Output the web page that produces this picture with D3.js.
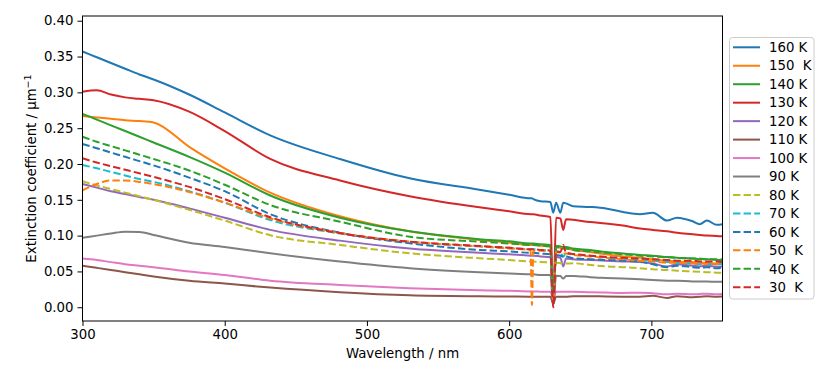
<!DOCTYPE html>
<meta charset="utf-8">
<script src="https://d3js.org/d3.v7.min.js"></script>
<body style="margin:0;background:#fff">
<div id="chart"></div>
</body>
<script>
    // wavelength grid (nm) shared by all series
    const wavelengths = [300, 310, 320, 330, 340, 350, 375, 400, 432, 481, 530, 579, 600, 615, 616, 617, 622, 629, 631, 633, 636, 638, 640, 645, 657, 668, 680, 692, 701, 711, 718, 729, 734, 739, 746, 750];

    // extinction coefficient per temperature
    const k160 = [.357, .349, .341, .333, .325, .318, .297, .272, .240, .207, .180, .164, .157, .152, .152, .151, .148, .147, .132, .146, .132, .146, .145, .141, .140, .138, .133, .130, .132, .121, .125, .120, .116, .121, .115, .116];
    const k150 = [.267, .265, .263, .261, .260, .258, .224, .194, .160, .127, .106, .094, .090, .087, .087, .087, .086, .085, .010, .084, .083, .082, .082, .080, .077, .074, .071, .069, .067, .065, .064, .063, .062, .062, .061, .061];
    const k140 = [.270, .262, .254, .246, .238, .230, .210, .188, .156, .125, .106, .095, .092, .089, .089, .089, .088, .087, .020, .086, .085, .084, .084, .082, .080, .077, .075, .073, .072, .070, .069, .068, .067, .067, .066, .066];
    const k130 = [.301, .303, .297, .293, .291, .289, .273, .246, .207, .177, .155, .1395, .134, .130, .130, .130, .128, .126, .000, .125, .124, .108, .123, .122, .119, .117, .114, .110, .108, .106, .104, .102, .101, .100, .0995, .099];
    const k120 = [.172, .167, .162, .158, .154, .150, .138, .125, .108, .093, .082, .076, .074, .072, .072, .072, .071, .070, .030, .070, .069, .057, .068, .067, .066, .065, .064, .063, .061, .057, .060, .058, .057, .058, .0567, .057];
    const k110 = [.058, .055, .052, .049, .046, .043, .037, .033, .0274, .021, .0167, .0153, .015, .0148, .0148, .0148, .0146, .0145, .005, .0145, .0145, .0145, .0145, .0155, .0155, .015, .0148, .0148, .016, .013, .0155, .014, .0145, .0155, .0148, .015];
    const k100 = [.068, .066, .063, .060, .058, .056, .050, .045, .0371, .0311, .0265, .0237, .023, .022, .022, .022, .0218, .0215, .012, .0215, .0215, .0215, .0215, .0218, .021, .0205, .020, .0204, .0195, .018, .019, .018, .0185, .019, .0181, .0185];
    const k90 = [.097, .100, .103, .1055, .105, .101, .090, .084, .0753, .0637, .0544, .0488, .047, .046, .046, .046, .045, .045, .003, .044, .0435, .040, .0435, .0437, .042, .041, .040, .039, .038, .037, .037, .036, .036, .0358, .0357, .0355];
    const k80 = [.176, .170, .165, .160, .155, .150, .136, .121, .1005, .087, .0753, .0684, .066, .064, .064, .064, .063, .0625, .040, .062, .0615, .061, .061, .0614, .059, .057, .056, .0544, .053, .052, .051, .050, .0495, .049, .0483, .048];
    const k70 = [.1986, .194, .189, .184, .179, .175, .162, .146, .1218, .103, .091, .085, .083, .081, .081, .081, .080, .079, .010, .078, .077, .070, .076, .074, .072, .070, .068, .066, .065, .063, .062, .061, .060, .060, .060, .060];
    const k60 = [.228, .222, .216, .210, .204, .198, .181, .162, .130, .104, .0893, .080, .078, .076, .076, .076, .075, .074, .005, .073, .072, .071, .071, .0684, .067, .066, .065, .0637, .060, .056, .058, .056, .055, .056, .0544, .055];
    const k50 = [.163, .172, .177, .177, .175, .172, .161, .146, .124, .1035, .0916, .085, .082, .080, .003, .079, .079, .078, .010, .077, .076, .075, .075, .073, .071, .069, .067, .065, .064, .062, .062, .061, .061, .0605, .0604, .060];
    const k40 = [.238, .231, .225, .219, .213, .207, .191, .171, .1428, .1195, .0985, .0916, .089, .087, .087, .087, .086, .085, .020, .084, .083, .082, .082, .080, .078, .076, .074, .072, .071, .070, .069, .068, .068, .067, .067, .067];
    const k30 = [.208, .202, .197, .192, .187, .182, .168, .151, .1256, .1035, .0916, .0855, .083, .081, .081, .081, .080, .079, .000, .078, .077, .087, .076, .0744, .072, .070, .069, .068, .067, .066, .065, .065, .064, .064, .0637, .063];

    const labels = ["160 K", "150  K", "140 K", "130 K", "120 K", "110 K", "100 K", "90 K", "80 K", "70 K", "60 K", "50  K", "40 K", "30  K"];
    const seriesValues = [k160, k150, k140, k130, k120, k110, k100, k90, k80, k70, k60, k50, k40, k30];
    const colors = ["#1f77b4", "#ff7f0e", "#2ca02c", "#d62728", "#9467bd", "#8c564b", "#e377c2", "#7f7f7f",
        "#bcbd22", "#17becf", "#1f77b4", "#ff7f0e", "#2ca02c", "#d62728"];
    const dashed = [false, false, false, false, false, false, false, false, true, true, true, true, true, true];

    const xTicks = [300, 400, 500, 600, 700];
    const yTicks = [0, 0.05, 0.10, 0.15, 0.20, 0.25, 0.30, 0.35, 0.40];

    const W = 830, H = 378;
    const plot = { left: 82.5, right: 722.5, top: 16, bottom: 321 };
    const font = "DejaVu Sans, sans-serif";

    const svg = d3.select("#chart").append("svg")
        .attr("width", W).attr("height", H)
        .style("font-family", font);

    const x = d3.scaleLinear().domain([300, 750]).range([plot.left, plot.right]);
    const y = d3.scaleLinear().domain([-0.0192, 0.4066]).range([plot.bottom, plot.top]);

    const series = labels.map((lab, i) => ({
        label: lab,
        color: colors[i],
        dashed: dashed[i],
        points: wavelengths.map((w, j) => [w, seriesValues[i][j]])
    }));

    svg.append("defs").append("clipPath").attr("id", "clip")
        .append("rect")
        .attr("x", plot.left).attr("y", plot.top)
        .attr("width", plot.right - plot.left).attr("height", plot.bottom - plot.top);

    // smooth between the read points, but keep the narrow dips sharp
    const line = d3.line().curve(d3.curveMonotoneX).x(d => x(d[0])).y(d => y(d[1]));

    svg.append("g").attr("clip-path", "url(#clip)")
        .selectAll("path")
        .data(series)
        .join("path")
        .attr("d", d => line(d.points))
        .attr("fill", "none")
        .attr("stroke", d => d.color)
        .attr("stroke-width", 2)
        .attr("stroke-linejoin", "round")
        .attr("stroke-dasharray", d => d.dashed ? "7.4,3.2" : null);

    // axes
    const xAxis = svg.append("g")
        .attr("transform", `translate(0,${plot.bottom})`)
        .call(d3.axisBottom(x).tickValues(xTicks).tickSize(5).tickPadding(4).tickSizeOuter(0));
    const yAxis = svg.append("g")
        .attr("transform", `translate(${plot.left},0)`)
        .call(d3.axisLeft(y).tickValues(yTicks).tickFormat(d3.format(".2f")).tickSize(5).tickPadding(4).tickSizeOuter(0));

    [xAxis, yAxis].forEach(a => {
        a.select(".domain").remove();
        a.selectAll("text").style("font-size", "13.3px").style("font-family", font).attr("fill", "#000");
        a.selectAll("line").attr("stroke", "#000").attr("stroke-width", 1);
    });

    // frame
    svg.append("rect")
        .attr("x", plot.left).attr("y", plot.top)
        .attr("width", plot.right - plot.left).attr("height", plot.bottom - plot.top)
        .attr("fill", "none").attr("stroke", "#000").attr("stroke-width", 1);

    // axis labels
    svg.append("text")
        .attr("x", (plot.left + plot.right) / 2).attr("y", 358)
        .attr("text-anchor", "middle")
        .style("font-size", "13.3px")
        .text("Wavelength / nm");

    const yl = svg.append("text")
        .attr("transform", `translate(36,${(plot.top + plot.bottom) / 2}) rotate(-90)`)
        .attr("text-anchor", "middle")
        .style("font-size", "13.3px");
    yl.append("tspan").text("Extinction coefficient / μm");
    yl.append("tspan").attr("dy", -5).style("font-size", "9.5px").text("−1");

    // legend
    const lg = svg.append("g");
    lg.append("rect")
        .attr("x", 729.5).attr("y", 37.5).attr("width", 84.5).attr("height", 261.5)
        .attr("rx", 3)
        .attr("fill", "#fff").attr("stroke", "#cccccc").attr("stroke-width", 1);

    const rows = lg.selectAll("g.row")
        .data(series)
        .join("g")
        .attr("class", "row")
        .attr("transform", (d, i) => `translate(0,${47.3 + i * 18.46})`);
    rows.append("line")
        .attr("x1", 733).attr("x2", 760)
        .attr("stroke", d => d.color).attr("stroke-width", 2)
        .attr("stroke-dasharray", d => d.dashed ? "7.4,3.2" : null);
    rows.append("text")
        .attr("x", 769).attr("y", 4.7)
        .style("font-size", "13.3px")
        .style("white-space", "pre")
        .attr("xml:space", "preserve")
        .text(d => d.label);
</script>
